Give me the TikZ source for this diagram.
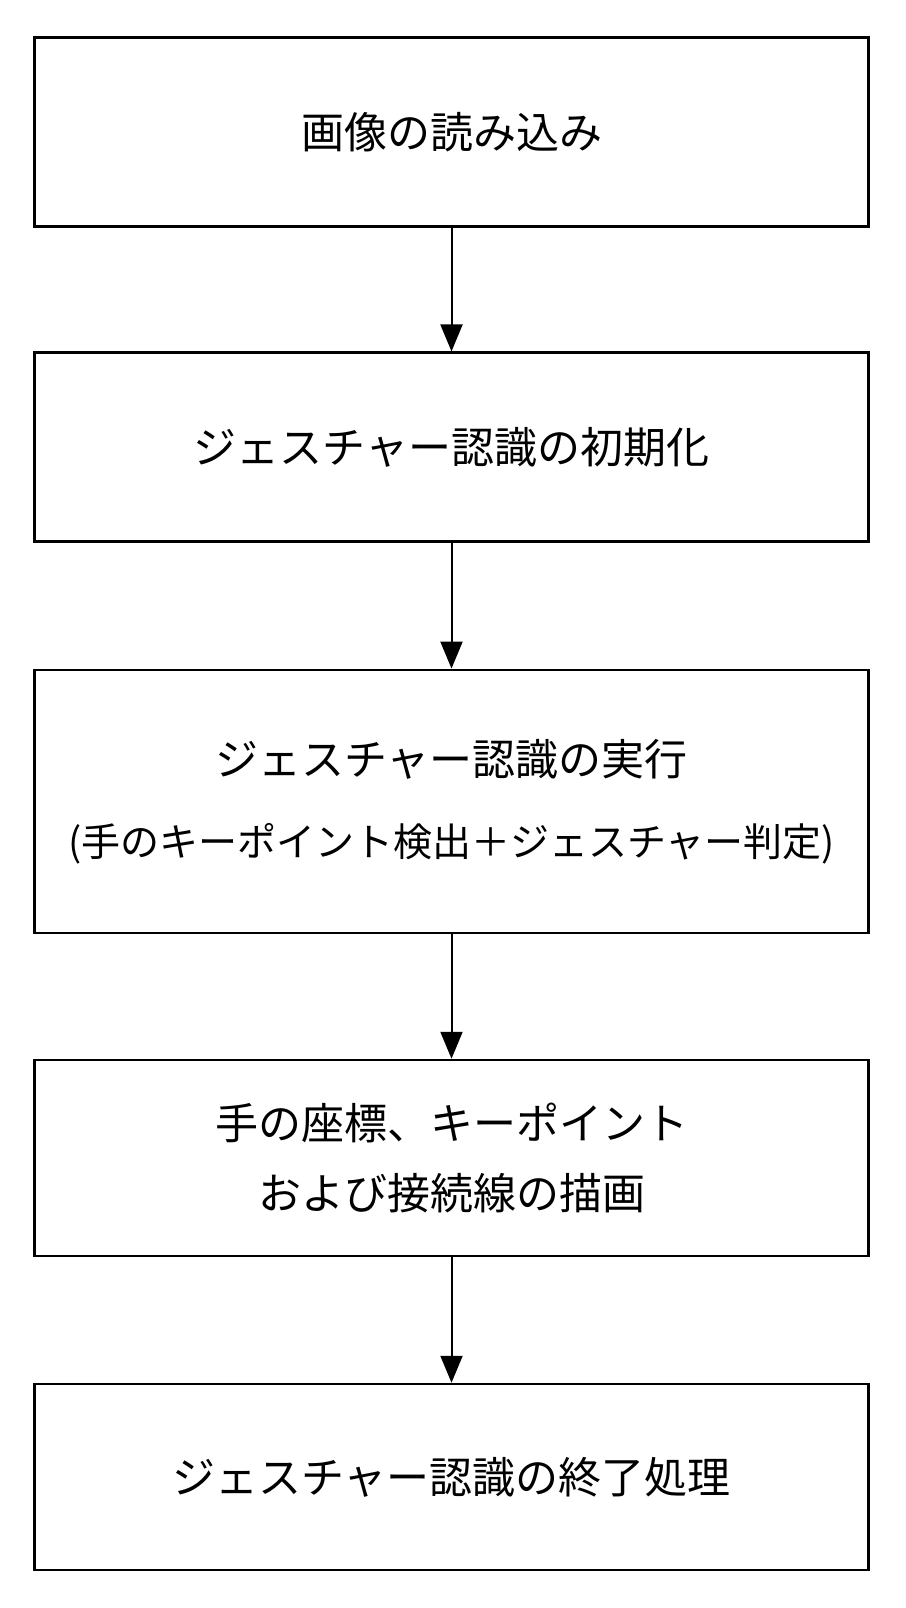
\documentclass[tikz,border=0pt]{standalone}
\usepackage{fontspec}
\setmainfont{Noto Sans CJK JP}
\usetikzlibrary{arrows.meta}
\begin{document}
\begin{tikzpicture}[x=1pt,y=-1pt,
  box/.style={draw, line width=2.5pt, minimum width=834pt, inner sep=0pt, align=center},
  arr/.style={-{Triangle[length=27pt,width=22pt]}, line width=2pt}]
\path[use as bounding box, fill=white] (0,0) rectangle (905,1608);
\node[box, minimum height=189pt, font=\fontsize{43}{80}\selectfont] (b1) at (451.5,132) {画像の読み込み};
\node[box, minimum height=189pt, font=\fontsize{43}{80}\selectfont] (b2) at (451.5,447.2) {ジェスチャー認識の初期化};
\node[box, minimum height=263pt, font=\fontsize{43}{81}\selectfont] (b3) at (451.5,801.3) {ジェスチャー認識の実行\\{\fontsize{39}{81}\selectfont (手のキーポイント検出＋ジェスチャー判定)}};
\node[box, minimum height=196pt, font=\fontsize{43}{70}\selectfont] (b4) at (451.5,1158) {手の座標、キーポイント\\および接続線の描画};
\node[box, minimum height=186pt, font=\fontsize{43}{80}\selectfont] (b5) at (451.5,1477) {ジェスチャー認識の終了処理};
\draw[arr] (b1.south) -- (b2.north);
\draw[arr] (b2.south) -- (b3.north);
\draw[arr] (b3.south) -- (b4.north);
\draw[arr] (b4.south) -- (b5.north);
\end{tikzpicture}
\end{document}
